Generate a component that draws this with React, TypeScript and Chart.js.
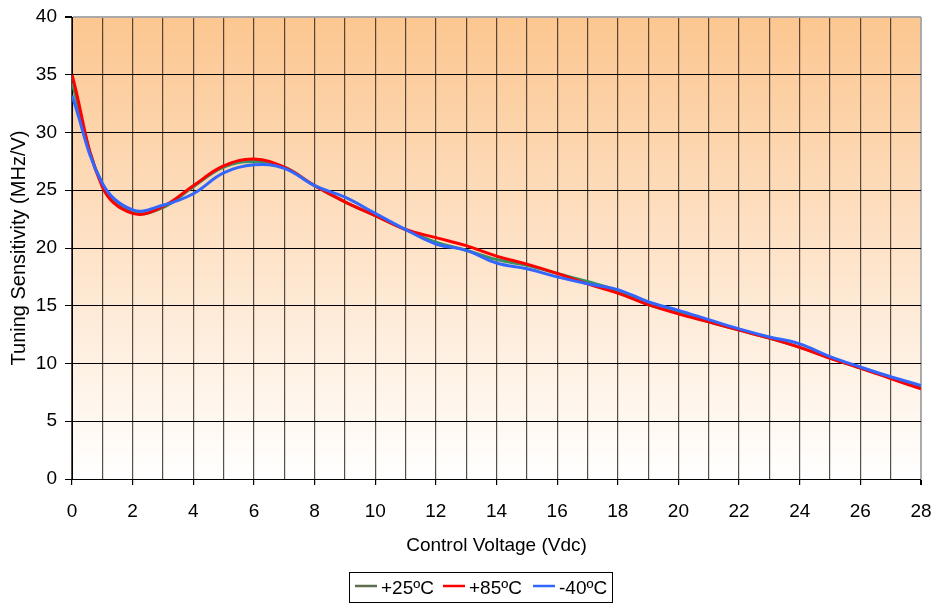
import React, { useEffect, useRef } from "react";
import { Chart, registerables } from "chart.js";

Chart.register(...registerables);

// Control voltage (Vdc)
const volts = [0, 1, 2, 3, 4, 5, 6, 7, 8, 9, 10, 11, 12, 13, 14, 15, 16, 17, 18, 19, 20, 21, 22, 23, 24, 25, 26, 27, 28];
// Tuning sensitivity (MHz/V)
const plus25 = [34.3, 25.5, 23.1, 23.5, 25.3, 27.0, 27.5, 27.0, 25.4, 24.0, 22.8, 21.6, 20.5, 19.8, 19.0, 18.5, 17.8, 17.1, 16.3, 15.1, 14.4, 13.6, 12.9, 12.2, 11.4, 10.5, 9.6, 8.8, 7.9];
const plus85 = [35.0, 25.3, 23.0, 23.6, 25.4, 27.1, 27.7, 27.0, 25.4, 24.0, 22.8, 21.6, 20.9, 20.2, 19.3, 18.6, 17.8, 16.9, 16.1, 15.1, 14.3, 13.6, 12.9, 12.2, 11.4, 10.45, 9.6, 8.7, 7.8];
const minus40 = [33.2, 25.6, 23.3, 23.7, 24.7, 26.5, 27.2, 26.9, 25.4, 24.4, 23.0, 21.6, 20.35, 19.8, 18.7, 18.2, 17.5, 16.9, 16.4, 15.35, 14.6, 13.8, 13.0, 12.3, 11.7, 10.6, 9.7, 8.85, 8.1];

const seriesLabels = ["+25ºC", "+85ºC", "-40ºC"];
const seriesColors = ["#3a9162", "#ff0000", "#3366ff"];
const legendSwatch = ["#5e6e50", "#ff0000", "#3366ff"];

const xTitle = "Control Voltage (Vdc)";
const yTitle = "Tuning Sensitivity (MHz/V)";

const FONT = "'Liberation Sans', Arial, sans-serif";

const bgPlugin = {
  id: "bgGradient",
  beforeDraw(chart: any) {
    const { ctx, chartArea } = chart;
    const { left, top, right, bottom } = chartArea;
    ctx.save();
    const g = ctx.createLinearGradient(0, top, 0, bottom);
    g.addColorStop(0, "#fcc690");
    g.addColorStop(1, "#ffffff");
    ctx.fillStyle = g;
    ctx.fillRect(left, top, right - left, bottom - top);
    ctx.restore();
  },
};

const legendPlugin = {
  id: "boxLegend",
  afterDraw(chart: any) {
    const { ctx } = chart;
    ctx.save();
    ctx.strokeStyle = "#000";
    ctx.lineWidth = 1;
    ctx.strokeRect(349.5, 572.5, 263, 30);
    ctx.font = `19px ${FONT}`;
    ctx.textBaseline = "middle";
    ctx.textAlign = "left";
    const starts = [355, 443, 533];
    seriesLabels.forEach((lab, i) => {
      const x = starts[i];
      ctx.strokeStyle = legendSwatch[i];
      ctx.lineWidth = 2.5;
      ctx.beginPath();
      ctx.moveTo(x, 586);
      ctx.lineTo(x + 22, 586);
      ctx.stroke();
      ctx.fillStyle = "#000";
      ctx.fillText(lab, x + 26, 589);
    });
    ctx.restore();
  },
};

export default function App() {
  const ref = useRef<HTMLCanvasElement | null>(null);

  useEffect(() => {
    if (!ref.current) return;
    const series = [plus25, plus85, minus40];
    const chart = new Chart(ref.current, {
      type: "line",
      data: {
        datasets: series.map((s, i) => ({
          label: seriesLabels[i],
          data: volts.map((v, j) => ({ x: v, y: s[j] })),
          borderColor: seriesColors[i],
          backgroundColor: seriesColors[i],
          borderWidth: 3,
          pointRadius: 0,
          tension: 0.4,
          fill: false,
          order: 2 - i,
        })),
      },
      plugins: [bgPlugin, legendPlugin],
      options: {
        responsive: false,
        animation: false,
        devicePixelRatio: 1,
        layout: { padding: { top: 17, right: 13, bottom: 46, left: 0 } },
        plugins: { legend: { display: false }, tooltip: { enabled: false } },
        scales: {
          x: {
            type: "linear",
            min: 0,
            max: 28,
            afterFit: (scale: any) => {
              scale.height = 78;
              scale.paddingLeft = 0;
              scale.paddingRight = 0;
            },
            ticks: {
              stepSize: 1,
              autoSkip: false,
              maxRotation: 0,
              padding: 15,
              color: "#000",
              font: { family: FONT, size: 19 },
              callback: (v: any) => (Number(v) % 2 === 0 ? String(v) : ""),
            },
            grid: {
              tickLength: 6,
              color: (c: any) =>
                c.tick && c.tick.value === 28 ? "#aaaaaa" : "rgba(45,35,25,0.8)",
              lineWidth: (c: any) => (c.tick && c.tick.value === 28 ? 2 : 1.2),
              tickColor: (c: any) =>
                c.tick && c.tick.value % 2 === 0 ? "#000" : "rgba(0,0,0,0)",
            },
            border: { display: true, color: "#000", width: 1 },
            title: {
              display: true,
              text: xTitle,
              color: "#000",
              font: { family: FONT, size: 19 },
              padding: { top: 0, bottom: 0 },
            },
          },
          y: {
            min: 0,
            max: 40,
            afterFit: (scale: any) => {
              scale.width = 72;
              scale.paddingTop = 0;
              scale.paddingBottom = 0;
            },
            ticks: {
              stepSize: 5,
              padding: 8,
              color: "#000",
              font: { family: FONT, size: 19 },
            },
            grid: {
              tickLength: 7,
              color: (c: any) => (c.tick && c.tick.value === 40 ? "#aaaaaa" : "#000"),
              lineWidth: (c: any) => (c.tick && c.tick.value === 40 ? 2 : 1),
              tickColor: "#000",
            },
            border: { display: true, color: "#000", width: 1 },
            title: {
              display: true,
              text: yTitle,
              color: "#000",
              font: { family: FONT, size: 20 },
              padding: { top: 7, bottom: 0 },
            },
          },
        },
      },
    } as any);
    return () => chart.destroy();
  }, []);

  return (
    <div style={{ position: "absolute", left: 0, top: 0, width: 934, height: 603 }}>
      <canvas ref={ref} width={934} height={603} />
    </div>
  );
}
